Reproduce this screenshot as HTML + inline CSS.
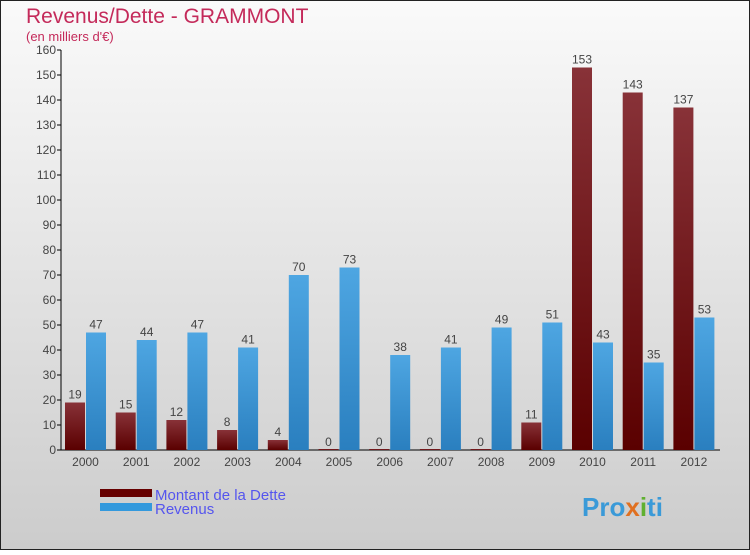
<!DOCTYPE html>
<html><head><meta charset="utf-8"><style>
body{margin:0;width:750px;height:550px;overflow:hidden;font-family:"Liberation Sans",sans-serif}
</style></head><body>
<svg id="c" width="750" height="550" xmlns="http://www.w3.org/2000/svg">
<defs>
<linearGradient id="bg" x1="0" y1="0" x2="0" y2="1"><stop offset="0" stop-color="#fafafa"/><stop offset="1" stop-color="#cccccc"/></linearGradient>
<linearGradient id="gd" x1="0" y1="0" x2="0" y2="1"><stop offset="0" stop-color="#883238"/><stop offset="1" stop-color="#5a0000"/></linearGradient>
<linearGradient id="gr" x1="0" y1="0" x2="0" y2="1"><stop offset="0" stop-color="#4ea6e2"/><stop offset="1" stop-color="#2a7fbf"/></linearGradient>
</defs>
<rect x="0.5" y="0.5" width="749" height="549" fill="url(#bg)" stroke="#222"/>
<text x="26" y="23" font-size="21" fill="#c42a5a">Revenus/Dette - GRAMMONT</text>
<text x="26" y="41" font-size="13" fill="#c42a5a">(en milliers d'€)</text>
<g id="axes"></g><g id="bars"></g>
<rect x="100" y="489" width="52" height="8" fill="#660000"/>
<rect x="100" y="503" width="52" height="8" fill="#3399dd"/>
<text x="155" y="500" font-size="15" fill="#5555ee">Montant de la Dette</text>
<text x="155" y="514" font-size="15" fill="#5555ee">Revenus</text>
<text x="582" y="516" font-size="26" font-weight="bold" fill="#3a9ad8">Pro<tspan fill="#e07020">x</tspan><tspan fill="#60b030">i</tspan>ti</text>
</svg>
<script>
const years=["2000","2001","2002","2003","2004","2005","2006","2007","2008","2009","2010","2011","2012"];
const dette=[19,15,12,8,4,0,0,0,0,11,153,143,137];
const revenus=[47,44,47,41,70,73,38,41,49,51,43,35,53];
const yTicks=[0,10,20,30,40,50,60,70,80,90,100,110,120,130,140,150,160];
const NS="http://www.w3.org/2000/svg";
const y=v=>450-v*2.5;
const x=i=>65+i*50.7;
function mk(t,a,p){const e=document.createElementNS(NS,t);for(const k in a)e.setAttribute(k,a[k]);p.appendChild(e);return e;}
const ax=document.getElementById('axes'),bg=document.getElementById('bars');
const yl=mk('line',{x1:61,y1:50,x2:61,y2:450,stroke:'#000'},ax);


const xl=mk('line',{x1:57,y1:450,x2:720,y2:450,stroke:'#000'},ax);


yTicks.forEach(v=>{
 mk('line',{x1:57,y1:y(v),x2:61,y2:y(v),stroke:'#000'},ax);
 const t=mk('text',{x:56,y:y(v)+4,'font-size':12,'text-anchor':'end',fill:'#444'},ax);t.textContent=v;
 
 
});
years.forEach((yr,i)=>{
 const t=mk('text',{x:x(i)+20.5,y:466,'font-size':12,'text-anchor':'middle',fill:'#444'},ax);t.textContent=yr;
 
 
 const d=mk('rect',{x:x(i),y:y(dette[i])-(dette[i]?0:1),width:20,height:Math.max(1,dette[i]*2.5),fill:'url(#gd)'},bg);
 
 
 const r=mk('rect',{x:x(i)+21,y:y(revenus[i]),width:20,height:revenus[i]*2.5,fill:'url(#gr)'},bg);
 
 
 const l1=mk('text',{x:x(i)+10,y:y(dette[i])-4,'font-size':12,'text-anchor':'middle',fill:'#444'},bg);l1.textContent=dette[i];
 
 
 const l2=mk('text',{x:x(i)+31,y:y(revenus[i])-4,'font-size':12,'text-anchor':'middle',fill:'#444'},bg);l2.textContent=revenus[i];
 
 
});
</script>
</body></html>
